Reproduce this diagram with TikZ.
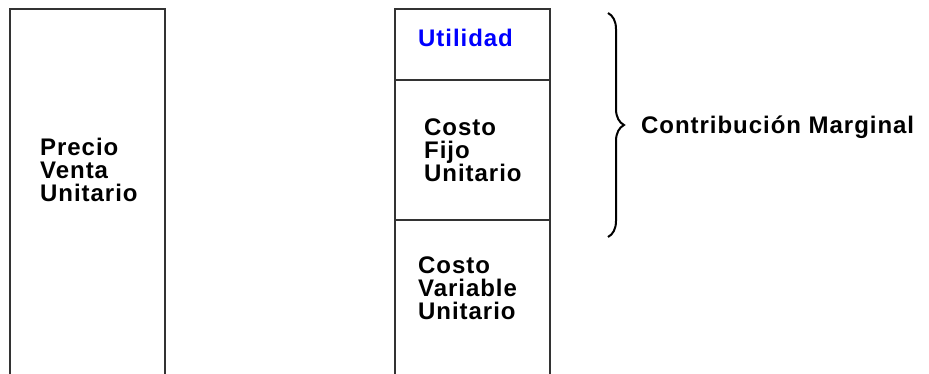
\documentclass[tikz,border=0pt]{standalone}
\usepackage{fontspec}
\setmainfont{Liberation Sans}[LetterSpace=4]
\usetikzlibrary{decorations.pathreplacing}
\definecolor{utilblue}{RGB}{0,0,255}

\begin{document}
\begin{tikzpicture}[x=1pt, y=1pt,
    bar/.style={line width=1.5pt, draw=black!80},
    lbl/.style={align=left, inner sep=0pt, font=\fontsize{24}{23}\selectfont\bfseries},
    cmbrace/.style={decorate, decoration={brace, amplitude=16pt}, line width=2pt},
  ]
  \useasboundingbox (0,0) rectangle (929,-373);
  \clip (0,0) rectangle (929,-373);

  % Columns (open at the bottom)
  \draw[bar] (10,-390) -- (10,-9) -- (165,-9) -- (165,-390);
  \draw[bar] (395,-390) -- (395,-9) -- (550,-9) -- (550,-390);
  \draw[bar] (395,-80) -- (550,-80);
  \draw[bar] (395,-220) -- (550,-220);

  % Labels
  \node[lbl, anchor=west] (pvu) at (40,-170) {Precio\\Venta\\Unitario};
  \node[lbl, anchor=base west, text=utilblue] (util) at (418,-46) {Utilidad};
  \node[lbl, anchor=west] (cfu) at (424,-150) {Costo\\Fijo\\Unitario};
  \node[lbl, anchor=west] (cvu) at (418,-288) {Costo\\Variable\\Unitario};

  % Brace
  \coordinate (cmtop) at (608,-13);
  \coordinate (cmbot) at (608,-237);
  \draw[cmbrace] (cmtop) -- (cmbot);
  \node[lbl, anchor=base west] (cm) at (641,-133) {Contribución Marginal};
\end{tikzpicture}
\end{document}
